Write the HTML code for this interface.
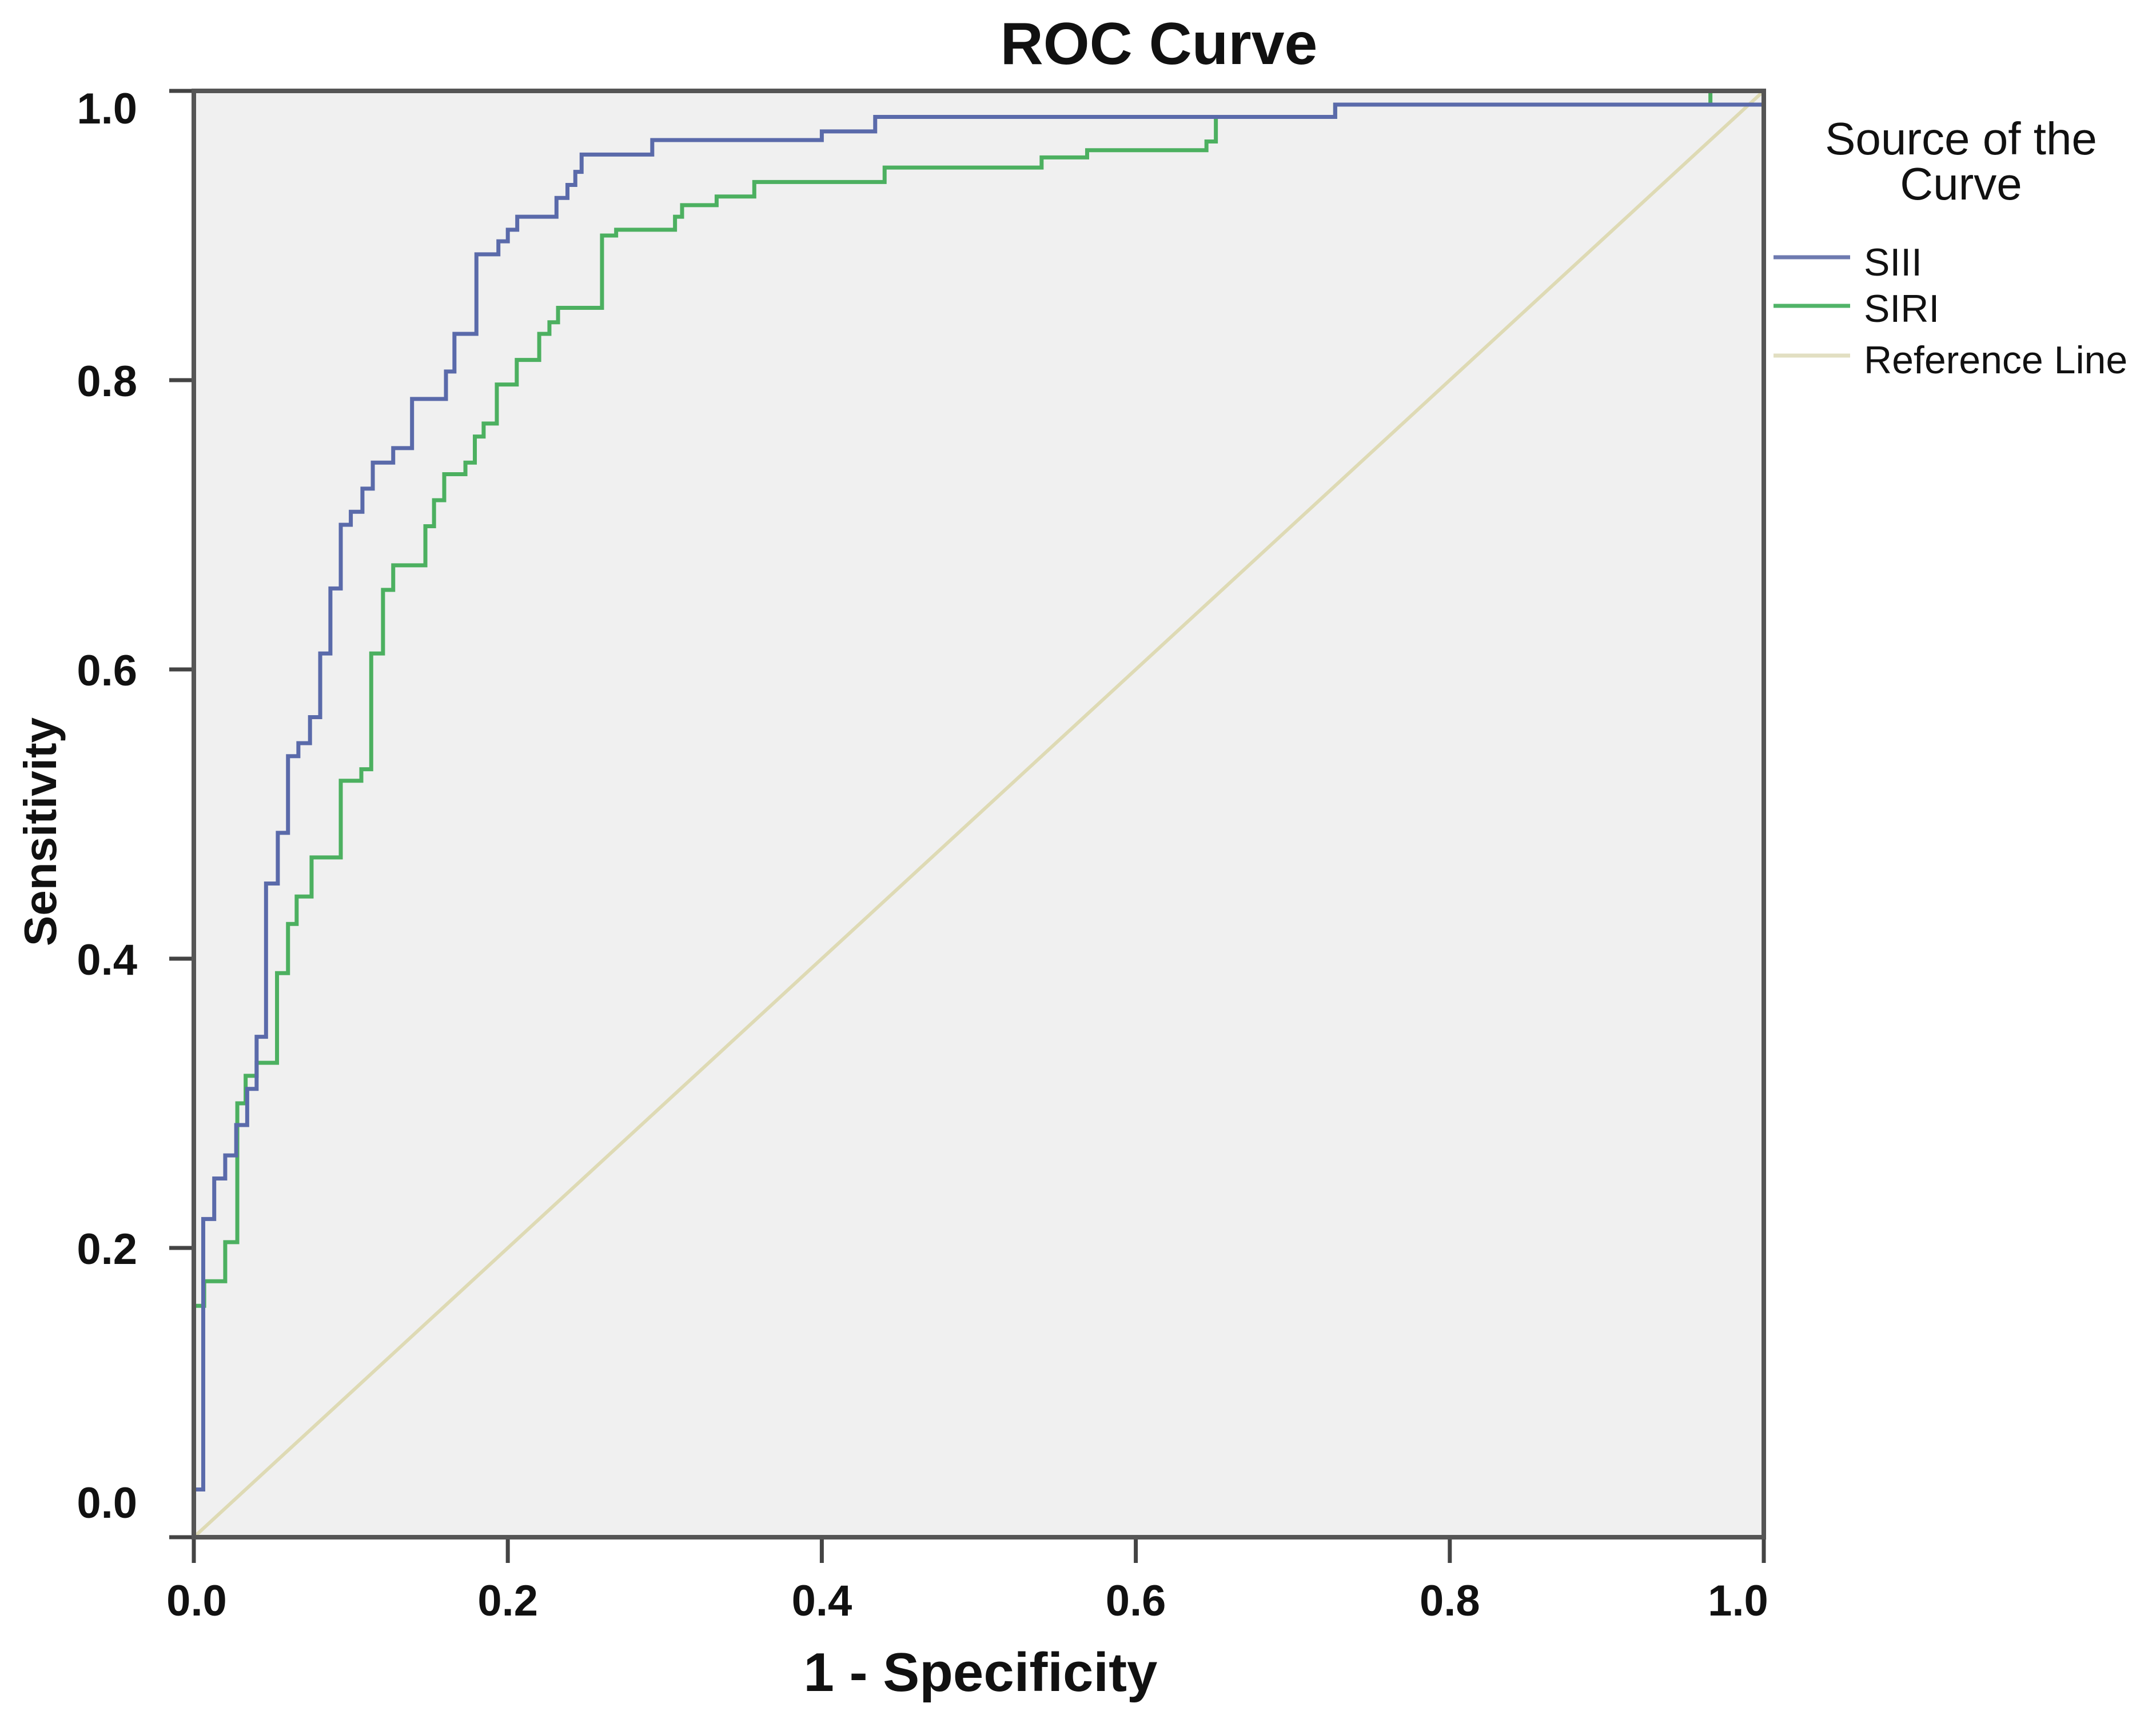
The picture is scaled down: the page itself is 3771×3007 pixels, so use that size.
<!DOCTYPE html>
<html><head><meta charset="utf-8">
<style>
html,body{margin:0;padding:0;background:#fff;}
svg{display:block;}
text{font-family:"Liberation Sans",sans-serif;fill:#111;}
</style></head>
<body>
<svg id="chart" width="3771" height="3007" viewBox="0 0 3771 3007" xmlns="http://www.w3.org/2000/svg">
<rect x="0" y="0" width="3771" height="3007" fill="#ffffff"/>
<text x="2027" y="112" font-size="104" font-weight="bold" text-anchor="middle">ROC Curve</text>
<rect x="339" y="159" width="2746" height="2530" fill="#f0f0f0"/>
<g id="ticks"></g>
<g id="series"></g>
<rect x="339" y="159" width="2746" height="2530" fill="none" stroke="#555" stroke-width="8"/>
<text x="1715" y="2958" font-size="96" font-weight="bold" text-anchor="middle">1 - Specificity</text>
<text transform="translate(98,1455) rotate(-90)" font-size="80" font-weight="bold" text-anchor="middle">Sensitivity</text>
<g>
<text x="3430" y="270" font-size="80" text-anchor="middle" fill="#222">Source of the</text>
<text x="3430" y="349" font-size="80" text-anchor="middle" fill="#222">Curve</text>
<line x1="3102" y1="450" x2="3236" y2="450" stroke="#6e7ab0" stroke-width="7"/>
<text x="3260" y="482" font-size="68">SIII</text>
<line x1="3102" y1="535" x2="3236" y2="535" stroke="#50b468" stroke-width="7"/>
<text x="3260" y="563" font-size="68">SIRI</text>
<line x1="3102" y1="622" x2="3236" y2="622" stroke="#e2dfc2" stroke-width="7"/>
<text x="3260" y="653" font-size="68">Reference Line</text>
</g>
</svg>
<script>
const tickValues = [0, 0.2, 0.4, 0.6, 0.8, 1.0];
const tickLabels = ["0.0", "0.2", "0.4", "0.6", "0.8", "1.0"];
const siiiFpr = [0, 0.006, 0.013, 0.020, 0.027, 0.034, 0.040, 0.046, 0.0535, 0.060, 0.0666, 0.074, 0.0805, 0.087, 0.0936, 0.100, 0.1074, 0.114, 0.127, 0.139, 0.1606, 0.166, 0.180, 0.194, 0.200, 0.206, 0.231, 0.238, 0.243, 0.247, 0.292, 0.400, 0.434, 0.727, 1.0];
const siiiTpr = [0.033, 0.22, 0.248, 0.264, 0.285, 0.31, 0.346, 0.452, 0.487, 0.54, 0.549, 0.567, 0.611, 0.656, 0.700, 0.709, 0.725, 0.743, 0.753, 0.787, 0.806, 0.832, 0.887, 0.896, 0.904, 0.913, 0.926, 0.935, 0.944, 0.956, 0.966, 0.972, 0.982, 0.9905, 1.0];
const siriFpr = [0, 0.0066, 0.020, 0.0277, 0.033, 0.040, 0.053, 0.060, 0.0655, 0.075, 0.0936, 0.1067, 0.113, 0.1205, 0.127, 0.1475, 0.153, 0.1595, 0.173, 0.179, 0.1846, 0.193, 0.2057, 0.22, 0.2265, 0.232, 0.26, 0.269, 0.3065, 0.311, 0.333, 0.357, 0.44, 0.54, 0.569, 0.645, 0.651, 0.727, 0.966];
const siriTpr = [0.16, 0.177, 0.204, 0.30, 0.319, 0.328, 0.39, 0.424, 0.443, 0.47, 0.523, 0.531, 0.611, 0.655, 0.672, 0.699, 0.717, 0.735, 0.743, 0.761, 0.77, 0.797, 0.814, 0.832, 0.84, 0.85, 0.90, 0.904, 0.913, 0.921, 0.927, 0.937, 0.947, 0.954, 0.959, 0.965, 0.982, 0.9905, 1.0];

const NS = "http://www.w3.org/2000/svg";
const X0 = 339, X1 = 3085, Y0 = 2689, Y1 = 159;
function xs(v){ return X0 + v * (X1 - X0); }
function ys(v){ return Y0 - v * (Y0 - Y1); }

const ticksG = document.getElementById('ticks');
const seriesG = document.getElementById('series');

tickValues.forEach(function(v, i){
  const tx = document.createElementNS(NS, 'line');
  tx.setAttribute('x1', xs(v)); tx.setAttribute('x2', xs(v));
  tx.setAttribute('y1', Y0); tx.setAttribute('y2', Y0 + 45);
  tx.setAttribute('stroke', '#444'); tx.setAttribute('stroke-width', 7);
  
  
  ticksG.appendChild(tx);
  const lx = document.createElementNS(NS, 'text');
  lx.setAttribute('x', Math.min(Math.max(xs(v), 344), 3040));
  lx.setAttribute('y', 2826);
  lx.setAttribute('font-size', 76); lx.setAttribute('font-weight', 'bold');
  lx.setAttribute('text-anchor', 'middle');
  lx.textContent = tickLabels[i];
  
  
  ticksG.appendChild(lx);
  const ty = document.createElementNS(NS, 'line');
  ty.setAttribute('x1', 296); ty.setAttribute('x2', X0);
  ty.setAttribute('y1', ys(v)); ty.setAttribute('y2', ys(v));
  ty.setAttribute('stroke', '#444'); ty.setAttribute('stroke-width', 7);
  
  
  ticksG.appendChild(ty);
  const ly = document.createElementNS(NS, 'text');
  ly.setAttribute('x', 240);
  ly.setAttribute('y', Math.min(Math.max(ys(v), 188), 2627) + 28);
  ly.setAttribute('font-size', 76); ly.setAttribute('font-weight', 'bold');
  ly.setAttribute('text-anchor', 'end');
  ly.textContent = tickLabels[i];
  
  
  ticksG.appendChild(ly);
});

const ref = document.createElementNS(NS, 'line');
ref.setAttribute('x1', xs(0)); ref.setAttribute('y1', ys(0));
ref.setAttribute('x2', xs(1)); ref.setAttribute('y2', ys(1));
ref.setAttribute('stroke', '#dedab4'); ref.setAttribute('stroke-width', 6);


seriesG.appendChild(ref);

function stepPath(fpr, tpr){
  let d = 'M' + xs(0) + ' ' + ys(0);
  for (let i = 0; i < fpr.length; i++){
    d += ' H' + xs(fpr[i]) + ' V' + ys(tpr[i]);
  }
  d += ' H' + xs(1);
  return d;
}
const siri = document.createElementNS(NS, 'path');
siri.setAttribute('d', stepPath(siriFpr, siriTpr));
siri.setAttribute('fill', 'none'); siri.setAttribute('stroke', '#4cb060');
siri.setAttribute('stroke-width', 7);


seriesG.appendChild(siri);

const siii = document.createElementNS(NS, 'path');
siii.setAttribute('d', stepPath(siiiFpr, siiiTpr));
siii.setAttribute('fill', 'none'); siii.setAttribute('stroke', '#5a6aaa');
siii.setAttribute('stroke-width', 7);


seriesG.appendChild(siii);
</script>
</body></html>
